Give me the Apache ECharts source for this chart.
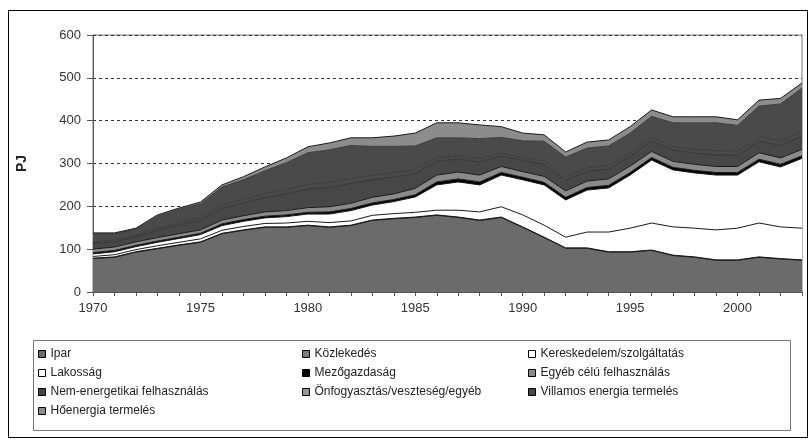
<!DOCTYPE html>
<html>
<head>
<meta charset="utf-8">
<script src="https://cdn.jsdelivr.net/npm/echarts@6/dist/echarts.min.js"></script>
<style>
  html, body { margin: 0; padding: 0; background: #fff; }
  #main { width: 810px; height: 441px; }
</style>
</head>
<body>
<div id="main"></div>
<script>
// évek
var years = ['1970','1971','1972','1973','1974','1975','1976','1977','1978','1979',
  '1980','1981','1982','1983','1984','1985','1986','1987','1988','1989',
  '1990','1991','1992','1993','1994','1995','1996','1997','1998','1999',
  '2000','2001','2002','2003'];

// PJ, alulról felfelé
var ipar = [78,81,93,101,109,116,136,144,151,151,155,151,155,167,171,174,179,174,167,174,151,127,102,102,93,93,97,85,81,74,74,81,77,74];
var kozlekedes = [1,1,1,1,1,1,1,1,1,1,1,1,1,1,1,1,1,1,1,1,1,1,1,1,1,1,1,1,1,1,1,1,1,1];
var kereskedelem = [4,5,5,6,6,7,7,8,8,9,9,10,10,11,11,11,11,16,19,24,28,28,25,37,46,55,63,66,67,70,74,79,74,74];
var lakossag = [6,7,7,8,9,10,11,12,13,15,17,20,24,24,28,36,59,66,63,74,82,94,87,98,103,124,147,133,129,128,124,143,140,163];
var mezogazdasag = [3,3,3,3,3,3,4,4,4,4,4,5,5,5,5,5,7,7,7,6,6,6,6,6,6,6,6,6,6,6,6,6,6,6];
var egyeb = [8,8,8,8,8,8,9,9,10,10,11,12,12,13,13,15,16,16,16,14,13,14,15,15,15,15,14,14,14,14,14,15,15,15];
var nemEnergetikai = [13,12,11,17,20,22,27,30,34,39,44,45,46,41,39,35,32,30,31,25,26,28,24,23,23,23,25,26,26,27,26,28,29,31];
var onfogyasztas = [4,4,4,5,6,6,8,8,9,10,11,12,12,11,10,9,9,8,8,7,7,8,8,8,8,8,8,9,9,10,9,10,10,11];
var villamos = [19,15,15,28,31,33,42,46,53,63,73,76,77,67,62,55,46,42,46,36,39,46,47,46,46,46,49,55,62,65,61,71,87,101];
var hoenergia = [2,2,2,3,3,4,5,7,9,11,14,16,18,20,24,30,35,35,32,25,18,15,12,14,14,15,15,14,14,14,13,14,13,12];

var yTicks = [0,100,200,300,400,500,600];

var chart = echarts.init(document.getElementById('main'));

function area(name, data, color, line) {
  return {
    name: name,
    type: 'line',
    stack: 'osszes',
    data: data,
    symbol: 'none',
    smooth: false,
    lineStyle: { width: 1, color: line || '#1a1a1a' },
    itemStyle: { color: color, borderColor: '#000', borderWidth: 1 },
    areaStyle: { color: color, opacity: 1 },
    emphasis: { disabled: true }
  };
}

var legendText = { fontFamily: 'Liberation Sans, Arial, sans-serif', fontSize: 12, color: '#222', lineHeight: 14 };
function legendCol(left, names) {
  return {
    orient: 'vertical',
    left: left,
    top: 347,
    icon: 'rect',
    itemWidth: 7,
    itemHeight: 7,
    itemGap: 5,
    padding: 0,
    selectedMode: false,
    textStyle: legendText,
    itemStyle: { borderColor: '#000', borderWidth: 1 },
    data: names
  };
}

chart.setOption({
  backgroundColor: '#fff',
  animation: false,
  grid: { left: 93, right: 8, top: 35, bottom: 149, show: true, borderColor: '#777', borderWidth: 1 },
  xAxis: {
    type: 'category',
    data: years,
    boundaryGap: false,
    axisLine: { lineStyle: { color: '#555' } },
    axisTick: { interval: 0, length: 4, lineStyle: { color: '#555' } },
    axisLabel: { interval: 4, margin: 10, fontFamily: 'Liberation Sans, Arial, sans-serif', fontSize: 13, color: '#333' },
    splitLine: { show: false }
  },
  yAxis: {
    type: 'value',
    min: yTicks[0],
    max: yTicks[yTicks.length - 1],
    interval: 100,
    name: 'PJ',
    nameLocation: 'middle',
    nameGap: 64,
    nameTextStyle: { fontFamily: 'Liberation Sans, Arial, sans-serif', fontSize: 14, fontWeight: 'bold', color: '#222' },
    axisLine: { show: true, lineStyle: { color: '#555' } },
    axisTick: { show: true, length: 6, lineStyle: { color: '#555' } },
    axisLabel: { margin: 12, fontFamily: 'Liberation Sans, Arial, sans-serif', fontSize: 13, color: '#333' },
    splitLine: { show: true, lineStyle: { color: '#333', type: [3, 3], width: 1 } }
  },
  legend: [
    legendCol(38, ['Ipar', 'Lakosság', 'Nem-energetikai felhasználás', 'Hőenergia termelés']),
    legendCol(302, ['Közlekedés', 'Mezőgazdaság', { name: 'Önfogyasztás/veszteség/egyéb', itemStyle: { color: '#959595' } }]),
    legendCol(528, ['Kereskedelem/szolgáltatás', 'Egyéb célú felhasználás', 'Villamos energia termelés'])
  ],
  graphic: [
    { type: 'rect', shape: { x: 8.5, y: 10.5, width: 799, height: 427 }, style: { fill: 'none', stroke: '#000', lineWidth: 1 }, silent: true },
    { type: 'rect', shape: { x: 33.5, y: 340.5, width: 757, height: 90 }, style: { fill: 'none', stroke: '#777', lineWidth: 1 }, silent: true }
  ],
  series: [
    area('Ipar', ipar, '#6b6b6b'),
    area('Közlekedés', kozlekedes, '#7d7d7d'),
    area('Kereskedelem/szolgáltatás', kereskedelem, '#ffffff'),
    area('Lakosság', lakossag, '#ffffff'),
    area('Mezőgazdaság', mezogazdasag, '#000000'),
    area('Egyéb célú felhasználás', egyeb, '#8a8a8a'),
    area('Nem-energetikai felhasználás', nemEnergetikai, '#474747', '#333'),
    area('Önfogyasztás/veszteség/egyéb', onfogyasztas, '#4a4a4a', '#3a3a3a'),
    area('Villamos energia termelés', villamos, '#4a4a4a', '#3a3a3a'),
    area('Hőenergia termelés', hoenergia, '#8c8c8c')
  ]
});
</script>
</body>
</html>
